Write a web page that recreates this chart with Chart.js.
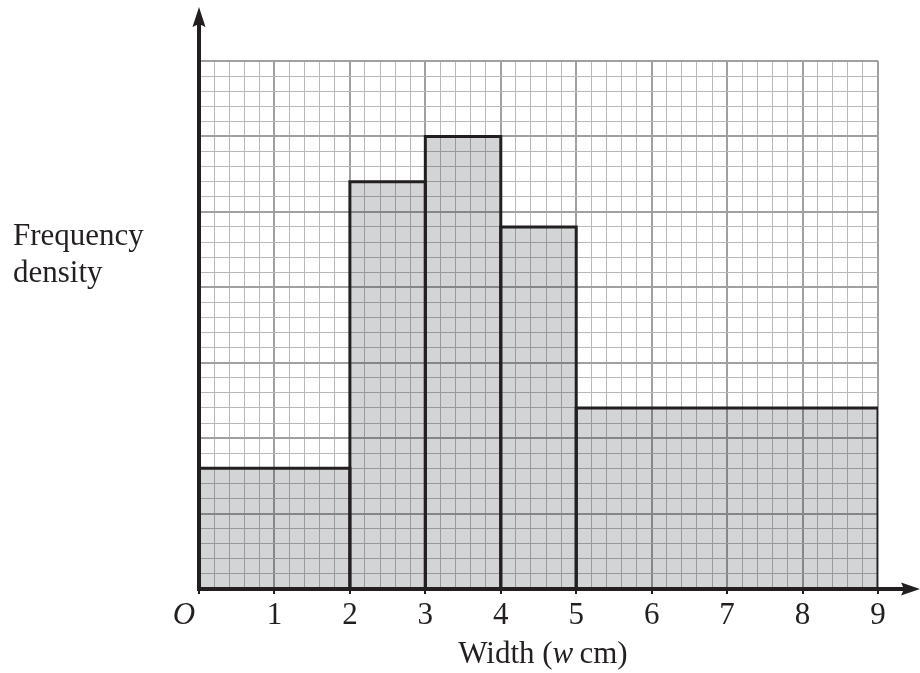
<!DOCTYPE html>
<html><head><meta charset="utf-8">
<script src="https://cdn.jsdelivr.net/npm/chart.js@4"></script>
<style>html,body{margin:0;padding:0;background:#fff}</style>
</head><body>
<canvas id="c" width="920" height="673"></canvas>
<script>
// ---- data ----
const classBounds = [0, 2, 3, 4, 5, 9];          // width classes (cm)
const freqDensity = [1.6, 5.4, 6.0, 4.8, 2.4];   // frequency density per class
const xTickLabels = ['', '1', '2', '3', '4', '5', '6', '7', '8', '9'];
const xRange = [0, 9];
const yRange = [0, 7];
const minorStep = 0.2;

const INK = '#231f20';
const FONT = "'Liberation Serif', 'Times New Roman', serif";
const FS = 31;
const isInt = v => Math.abs(v - Math.round(v)) < 1e-6;

const datasets = freqDensity.map((d, i) => ({
  data: [
    {x: classBounds[i], y: 0},
    {x: classBounds[i], y: d},
    {x: classBounds[i + 1], y: d},
    {x: classBounds[i + 1], y: 0}
  ],
  borderColor: INK,
  borderWidth: 3,
  borderJoinStyle: 'miter',
  backgroundColor: 'rgba(11,16,27,0.18)',
  fill: 'origin',
  pointRadius: 0,
  tension: 0
}));

const decor = {
  id: 'decor',
  afterDraw(chart) {
    const c = chart.ctx, xs = chart.scales.x, ys = chart.scales.y;
    const x0 = xs.getPixelForValue(0), y0 = ys.getPixelForValue(0);
    c.save();
    c.fillStyle = INK; c.strokeStyle = INK; c.lineWidth = 4;
    // y axis
    c.beginPath(); c.moveTo(x0, y0 + 2); c.lineTo(x0, 22); c.stroke();
    c.beginPath(); c.moveTo(x0, 7); c.lineTo(x0 - 6.5, 27); c.lineTo(x0, 24); c.lineTo(x0 + 6.5, 27); c.closePath(); c.fill();
    // x axis
    c.beginPath(); c.moveTo(x0 - 2, y0); c.lineTo(906, y0); c.stroke();
    c.beginPath(); c.moveTo(920, y0); c.lineTo(901, y0 - 6.5); c.lineTo(904, y0); c.lineTo(901, y0 + 6.5); c.closePath(); c.fill();
    // texts
    c.textBaseline = 'alphabetic';
    c.font = FS + "px " + FONT;
    c.textAlign = 'left';
    c.fillText('Frequency', 13, 245);
    c.fillText('density', 13, 282);
    c.font = "italic " + FS + "px " + FONT;
    c.textAlign = 'center';
    c.fillText('O', 184, 624);
    // x title with italic w
    const parts = [['Width (', false], ['w', true], ['\u2009cm)', false]];
    let total = 0;
    parts.forEach(p => { c.font = (p[1] ? 'italic ' : '') + FS + 'px ' + FONT; total += c.measureText(p[0]).width; });
    let tx = 543 - total / 2;
    c.textAlign = 'left';
    parts.forEach(p => { c.font = (p[1] ? 'italic ' : '') + FS + 'px ' + FONT; c.fillText(p[0], tx, 663); tx += c.measureText(p[0]).width; });
    c.restore();
  }
};

new Chart(document.getElementById('c'), {
  type: 'line',
  data: { datasets },
  options: {
    responsive: false,
    animation: false,
    devicePixelRatio: 1,
    layout: { padding: { left: 199, top: 61, right: 42, bottom: 0 } },
    plugins: { legend: { display: false }, tooltip: { enabled: false } },
    scales: {
      x: {
        type: 'linear', min: xRange[0], max: xRange[1],
        afterFit: s => { s.height = 84; },
        border: { display: false },
        grid: {
          color: ctx => isInt(ctx.tick.value) ? '#a0a0a0' : '#b8b8b8',
          lineWidth: ctx => isInt(ctx.tick.value) ? 2 : 1,
          drawTicks: true, tickLength: 5,
          tickColor: ctx => isInt(ctx.tick.value) ? INK : 'rgba(0,0,0,0)',
          tickWidth: 2
        },
        ticks: {
          stepSize: minorStep, maxTicksLimit: 200, autoSkip: false, maxRotation: 0,
          padding: 3, color: INK, font: { family: FONT, size: FS },
          callback: v => isInt(v) ? (xTickLabels[Math.round(v)] || '') : ''
        }
      },
      y: {
        type: 'linear', min: yRange[0], max: yRange[1],
        afterFit: s => { s.width = 0; },
        border: { display: false },
        grid: {
          color: ctx => isInt(ctx.tick.value) ? '#a0a0a0' : '#b8b8b8',
          lineWidth: ctx => isInt(ctx.tick.value) ? 2 : 1,
          drawTicks: false
        },
        ticks: { display: false, stepSize: minorStep, maxTicksLimit: 200, autoSkip: false }
      }
    }
  },
  plugins: [decor]
});
</script>
</body></html>
